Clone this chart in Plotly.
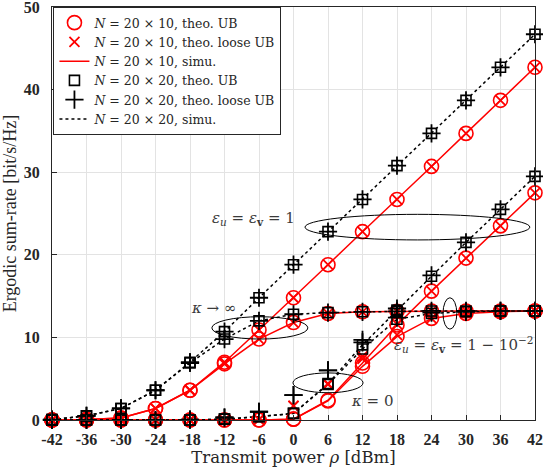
import plotly.graph_objects as go

# ---------------- data ----------------
power_dbm = [-42, -36, -30, -24, -18, -12, -6, 0, 6, 12, 18, 24, 30, 36, 42]
tick_labels = ["-42", "-36", "-30", "-24", "-18", "-12", "-6", "0", "6", "12", "18", "24", "30", "36", "42"]
y_ticks = [0, 10, 20, 30, 40, 50]

# N = 20 x 20 (black), theoretical UB
b_eps1_kinf = [0.05, 0.5, 1.4, 3.6, 7.0, 10.7, 14.8, 18.8, 22.8, 26.7, 30.8, 34.7, 38.7, 42.7, 46.7]
b_eps099_kinf = [0.05, 0.5, 1.4, 3.6, 6.9, 9.8, 12.0, 12.8, 13.0, 13.1, 13.15, 13.2, 13.2, 13.2, 13.2]
b_eps1_k0 = [0, 0, 0, 0, 0, 0.1, 0.4, 0.8, 4.4, 9.1, 13.3, 17.4, 21.5, 25.5, 29.5]
b_eps099_k0 = [0, 0, 0, 0, 0, 0.1, 0.4, 0.8, 4.3, 8.6, 12.2, 12.9, 13.1, 13.2, 13.2]
# N = 20 x 20 (black), theoretical loose UB
b_eps1_k0_loose = [0, 0, 0, 0, 0.05, 0.3, 1.0, 3.0, 6.0, 9.7, 13.5, 17.5, 21.5, 25.5, 29.5]
b_eps099_k0_loose = [0, 0, 0, 0, 0.05, 0.3, 1.0, 3.0, 6.0, 9.4, 12.4, 13.0, 13.1, 13.2, 13.2]

# N = 20 x 10 (red), theoretical UB
r_eps1_kinf = [0.0, 0.05, 0.25, 1.4, 3.6, 7.0, 10.9, 14.8, 18.8, 22.8, 26.7, 30.7, 34.7, 38.7, 42.7]
r_eps099_kinf = [0.0, 0.05, 0.25, 1.4, 3.6, 6.8, 9.8, 11.8, 12.9, 13.1, 13.15, 13.2, 13.2, 13.2, 13.2]
r_eps1_k0 = [0, 0, 0, 0, 0, 0, 0, 0.1, 2.4, 6.9, 11.5, 15.6, 19.6, 23.5, 27.5]
r_eps099_k0 = [0, 0, 0, 0, 0, 0, 0, 0.1, 2.3, 6.5, 10.1, 12.3, 12.9, 13.1, 13.2]
# N = 20 x 10 (red), theoretical loose UB
r_eps1_k0_loose = [0, 0, 0, 0, 0, 0, 0.05, 1.7, 4.4, 7.7, 11.6, 15.6, 19.6, 23.5, 27.5]
r_eps099_k0_loose = [0, 0, 0, 0, 0, 0, 0.05, 1.7, 4.3, 7.4, 10.3, 12.3, 12.9, 13.1, 13.2]

# ---------------- figure ----------------
SERIF = "Liberation Serif"
WIDE = "DejaVu Serif"
TXT = "#262626"
fig = go.Figure()

red_ub = [r_eps1_kinf, r_eps099_kinf, r_eps1_k0, r_eps099_k0]
red_loose = [r_eps1_kinf, r_eps099_kinf, r_eps1_k0_loose, r_eps099_k0_loose]
blk_ub = [b_eps1_kinf, b_eps099_kinf, b_eps1_k0, b_eps099_k0]
blk_loose = [b_eps1_kinf, b_eps099_kinf, b_eps1_k0_loose, b_eps099_k0_loose]

for i, ys in enumerate(red_ub):
    fig.add_trace(go.Scatter(x=power_dbm, y=ys, mode="lines",
                             line=dict(color="red", width=1.5),
                             name="<i>N</i> = 20 × 10, simu.", legendgroup="rs",
                             showlegend=(i == 0), legendrank=3, cliponaxis=False))
for i, ys in enumerate(blk_ub):
    fig.add_trace(go.Scatter(x=power_dbm, y=ys, mode="lines",
                             line=dict(color="black", width=1.5, dash="dot"),
                             name="<i>N</i> = 20 × 20, simu.", legendgroup="bs",
                             showlegend=(i == 0), legendrank=6, cliponaxis=False))
for i, ys in enumerate(red_ub):
    fig.add_trace(go.Scatter(x=power_dbm, y=ys, mode="markers",
                             marker=dict(symbol="circle-open", size=14, color="red",
                                         line=dict(width=1.6, color="red")),
                             name="<i>N</i> = 20 × 10, theo. UB", legendgroup="ru",
                             showlegend=(i == 0), legendrank=1, cliponaxis=False))
for i, ys in enumerate(red_loose):
    fig.add_trace(go.Scatter(x=power_dbm, y=ys, mode="markers",
                             marker=dict(symbol="x-thin-open", size=10, color="red",
                                         line=dict(width=1.8, color="red")),
                             name="<i>N</i> = 20 × 10, theo. loose UB", legendgroup="rl",
                             showlegend=(i == 0), legendrank=2, cliponaxis=False))
for i, ys in enumerate(blk_ub):
    fig.add_trace(go.Scatter(x=power_dbm, y=ys, mode="markers",
                             marker=dict(symbol="square-open", size=10, color="black",
                                         line=dict(width=1.6, color="black")),
                             name="<i>N</i> = 20 × 20, theo. UB", legendgroup="bu",
                             showlegend=(i == 0), legendrank=4, cliponaxis=False))
for i, ys in enumerate(blk_loose):
    fig.add_trace(go.Scatter(x=power_dbm, y=ys, mode="markers",
                             marker=dict(symbol="cross-thin-open", size=13, color="black",
                                         line=dict(width=1.8, color="black")),
                             name="<i>N</i> = 20 × 20, theo. loose UB", legendgroup="bl",
                             showlegend=(i == 0), legendrank=5, cliponaxis=False))

# ellipses
ellipses = [
    (2.0, 41.1, 21.8, 24.9),
    (-14.2, 2.5, 9.8, 12.5),
    (-0.1, 12.1, 3.3, 5.7),
    (26.0, 28.4, 11.0, 14.8),
]
for x0, x1, y0, y1 in ellipses:
    fig.add_shape(type="circle", xref="x", yref="y", x0=x0, x1=x1, y0=y0, y1=y1,
                  line=dict(color="black", width=1))

ann_font = dict(family=WIDE, size=15, color="#3a3a3a")
fig.add_annotation(x=-7.0, y=24.4, text="<i>ε</i><sub><i>u</i></sub> = <i>ε</i><sub><b>v</b></sub> = 1",
                   showarrow=False, font=ann_font)
fig.add_annotation(x=-14.0, y=13.6, text="<i>κ</i> → ∞", showarrow=False, font=ann_font)
fig.add_annotation(x=13.7, y=2.3, text="<i>κ</i> = 0", showarrow=False, font=ann_font)
fig.add_annotation(x=42, y=9.1, xanchor="right",
                   text="<i>ε</i><sub><i>u</i></sub> = <i>ε</i><sub><b>v</b></sub> = 1 − 10<sup>−2</sup>",
                   showarrow=False, font=ann_font)

fig.update_layout(
    width=543, height=472,
    margin=dict(l=52, r=8, t=7, b=52, autoexpand=False),
    paper_bgcolor="white", plot_bgcolor="white",
    font=dict(family=SERIF, color=TXT),
    legend=dict(x=0.003, y=1.0, xanchor="left", yanchor="top",
                bgcolor="white", bordercolor=TXT, borderwidth=1,
                font=dict(family=WIDE, size=12.5, color=TXT),
                tracegroupgap=0, itemwidth=30),
    showlegend=True,
)
fig.update_xaxes(range=[-42, 42], tickmode="array", tickvals=power_dbm, ticktext=tick_labels,
                 automargin=False, ticklabeloverflow="allow",
                 showgrid=True, gridcolor="#e3e3e3", gridwidth=1,
                 showline=True, linecolor=TXT, linewidth=1, mirror=True,
                 ticks="inside", ticklen=5, tickcolor=TXT, zeroline=False,
                 ticklabelstandoff=5,
                 tickfont=dict(family=SERIF, size=16, color=TXT, weight="bold"),
                 title=dict(text="Transmit power <i>ρ</i> [dBm]", standoff=4,
                            font=dict(family=WIDE, size=16.5, color=TXT)))
fig.update_yaxes(range=[0, 50], tickmode="array", tickvals=y_ticks,
                 automargin=False, ticklabeloverflow="allow",
                 showgrid=True, gridcolor="#e3e3e3", gridwidth=1,
                 showline=True, linecolor=TXT, linewidth=1, mirror=True,
                 ticks="inside", ticklen=5, tickcolor=TXT, zeroline=False,
                 ticklabelstandoff=8,
                 tickfont=dict(family=SERIF, size=16, color=TXT, weight="bold"),
                 title=dict(text="Ergodic sum-rate [bit/s/Hz]", standoff=8,
                            font=dict(family=SERIF, size=18, color=TXT)))

fig.write_html("out.html", config={"displayModeBar": False},
               post_script="document.body.style.margin='0';document.body.style.overflow='hidden';")
